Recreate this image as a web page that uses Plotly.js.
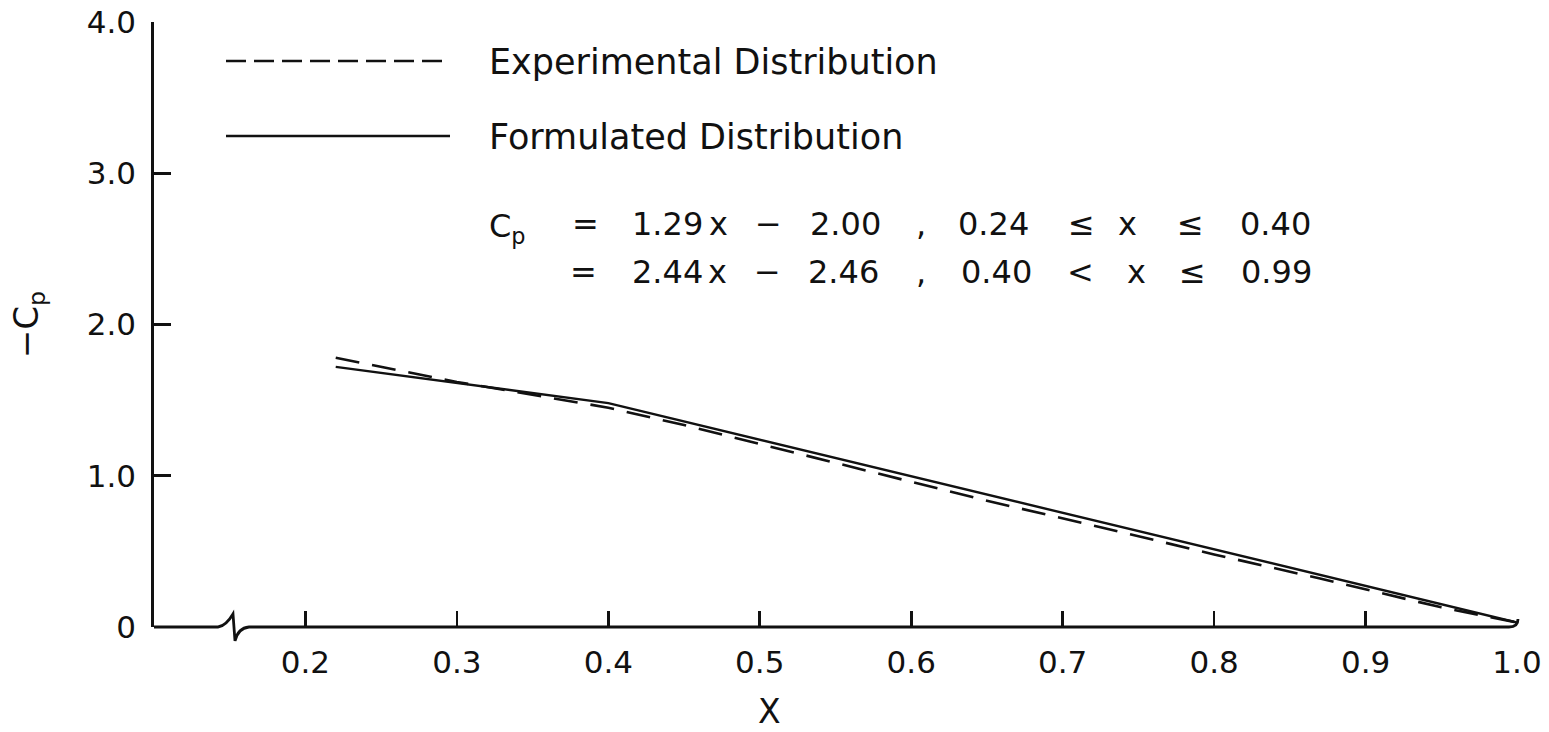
<!DOCTYPE html>
<html>
<head>
<meta charset="utf-8">
<script src="https://cdn.plot.ly/plotly-3.0.1.min.js"></script>
<style>
  html, body { margin: 0; padding: 0; background: #fff; }
  #chart { width: 1549px; height: 732px; }
</style>
</head>
<body>
<div id="chart"></div>
<script>
// Pressure distribution along the chord: measured vs. piecewise-linear fit
const seriesNames = ['Experimental Distribution', 'Formulated Distribution'];

const expX = [0.22, 0.30, 0.40, 0.45, 0.55, 0.65, 0.725, 0.80, 0.87, 0.95, 1.00];
const expY = [1.78, 1.62, 1.45, 1.335, 1.085, 0.835, 0.66, 0.48, 0.32, 0.13, 0.03];

const formX = [0.22, 0.40, 1.00];
const formY = [1.72, 1.48, 0.03];

// Fit coefficients: Cp = slope * x + intercept on each interval
const eqSlope = [1.29, 2.44];
const eqIntercept = [-2.00, -2.46];
const eqLower = [0.24, 0.40];
const eqUpper = [0.40, 0.99];
const eqLowerSign = ['≤', '<'];

const xTickVals = [0.2, 0.3, 0.4, 0.5, 0.6, 0.7, 0.8, 0.9, 1.0];
const xTickText = ['0.2', '0.3', '0.4', '0.5', '0.6', '0.7', '0.8', '0.9', '1.0'];
const yTickVals = [0, 1, 2, 3, 4];
const yTickText = ['0', '1.0', '2.0', '3.0', '4.0'];

const xTitle = 'X';
const yTitle = '−C<sub>p</sub>';

// ---- page geometry ----
const W = 1549, H = 732;
const M = { l: 154, r: 32, t: 22, b: 105 };
const PW = W - M.l - M.r, PH = H - M.t - M.b;
const px = x => (x - M.l) / PW;          // pixel -> paper x
const py = y => (H - M.b - y) / PH;      // pixel -> paper y

const INK = '#111';
const FONT = 'DejaVu Sans, Liberation Sans, sans-serif';

const traces = [
  {
    x: expX, y: expY, name: seriesNames[0], type: 'scatter', mode: 'lines',
    line: { color: INK, width: 2.6, dash: '24px,13px' }, cliponaxis: false, showlegend: false
  },
  {
    x: formX, y: formY, name: seriesNames[1], type: 'scatter', mode: 'lines',
    line: { color: INK, width: 2.4 }, cliponaxis: false, showlegend: false
  }
];

const shapes = [];
const annotations = [];

// x axis line with a break near the origin and a curl at the far end
const pt = (x, y) => px(x).toFixed(5) + ',' + py(y).toFixed(5);
shapes.push({
  type: 'path', xref: 'paper', yref: 'paper',
  path: 'M' + pt(154, 627) + ' L' + pt(218, 627) + ' Q' + pt(226, 626) + ' ' + pt(233, 614) +
        ' L' + pt(235, 641) + ' Q' + pt(238, 628) + ' ' + pt(249, 627) + ' L' + pt(1509, 627) +
        ' Q' + pt(1518, 627) + ' ' + pt(1518, 619),
  line: { color: INK, width: 2.8 }
});

// key: line samples and labels
const keyRows = [
  { y: 61, x0: 226, x1: 443, dash: '20px,8px' },
  { y: 136, x0: 226, x1: 450, dash: 'solid' }
];
keyRows.forEach((k, i) => {
  shapes.push({
    type: 'line', xref: 'paper', yref: 'paper',
    x0: px(k.x0), x1: px(k.x1), y0: py(k.y), y1: py(k.y),
    line: { color: INK, width: 2.4, dash: k.dash }
  });
  annotations.push({
    xref: 'paper', yref: 'paper', x: px(487), y: py(k.y + 1),
    xanchor: 'left', yanchor: 'middle', showarrow: false,
    text: seriesNames[i], font: { family: FONT, size: 35, color: INK }
  });
});

// fitted equations, laid out piece by piece
const fmt = v => v.toFixed(2);
const eqRows = [0, 1].map(i => [
  i === 0 ? 'C<sub>p</sub>' : null,
  '=',
  fmt(eqSlope[i]), 'x',
  '−', fmt(Math.abs(eqIntercept[i])),
  ',',
  fmt(eqLower[i]), eqLowerSign[i], 'x', '≤', fmt(eqUpper[i])
]);
const eqCentersX = [
  [507, 585, 667, 718, 768, 845, 921, 993, 1081, 1127, 1190, 1275],
  [null, 583, 667, 717, 767, 843, 921, 996, 1080, 1136, 1192, 1276]
];
const eqCentersY = [224, 272];
eqRows.forEach((row, r) => {
  row.forEach((txt, j) => {
    if (txt === null) return;
    let yy = eqCentersY[r];
    if (txt.startsWith('C')) yy += 4;
    annotations.push({
      xref: 'paper', yref: 'paper', x: px(eqCentersX[r][j]), y: py(yy),
      xanchor: 'center', yanchor: 'middle', showarrow: false,
      text: txt, font: { family: FONT, size: 32, color: INK }
    });
  });
});

// x axis title placed under the 0.5 mark
annotations.push({
  xref: 'paper', yref: 'paper', x: px(769), y: py(711),
  xanchor: 'center', yanchor: 'middle', showarrow: false,
  text: xTitle, font: { family: FONT, size: 33, color: INK }
});

const layout = {
  width: W, height: H,
  margin: M,
  paper_bgcolor: '#fff', plot_bgcolor: '#fff',
  showlegend: false,
  font: { family: FONT, color: INK },
  xaxis: {
    range: [0.1, 1.0], showgrid: false, zeroline: false, showline: false,
    tickmode: 'array', tickvals: xTickVals, ticktext: xTickText,
    ticks: 'inside', ticklen: 16, tickwidth: 2.6, tickcolor: INK,
    ticklabelstandoff: 14,
    tickfont: { family: FONT, size: 31, color: INK }
  },
  yaxis: {
    range: [0, 4], showgrid: false, zeroline: false,
    showline: true, linecolor: INK, linewidth: 2.8,
    tickmode: 'array', tickvals: yTickVals, ticktext: yTickText,
    ticks: 'inside', ticklen: 17, tickwidth: 2.6, tickcolor: INK,
    ticklabelstandoff: 9,
    tickfont: { family: FONT, size: 31, color: INK },
    title: { text: yTitle, standoff: 38, font: { family: FONT, size: 34, color: INK } }
  },
  shapes: shapes,
  annotations: annotations
};

Plotly.newPlot('chart', traces, layout, { staticPlot: true, displayModeBar: false });
</script>
</body>
</html>
